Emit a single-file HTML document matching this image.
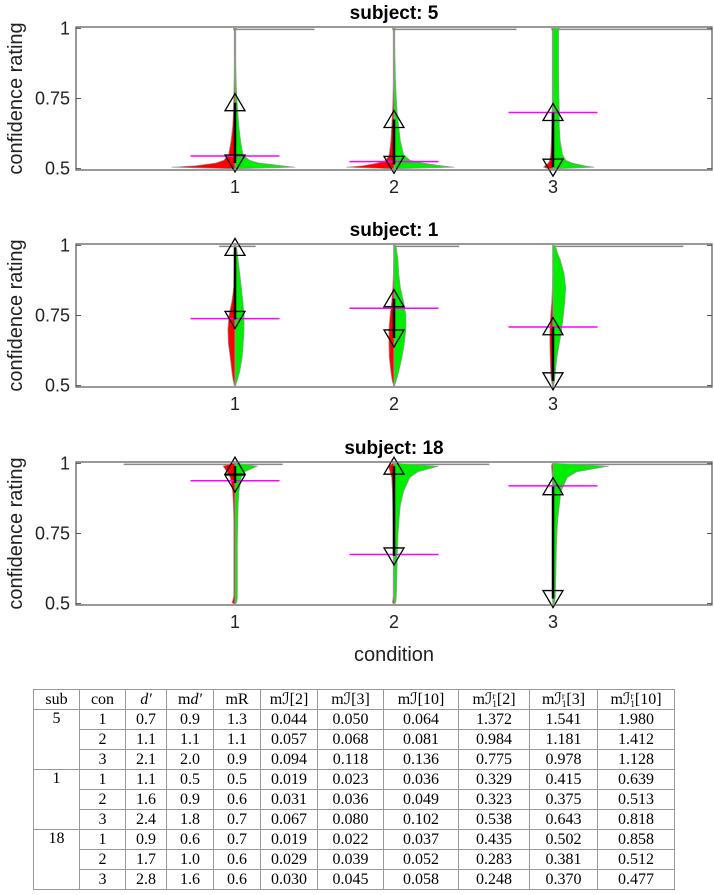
<!DOCTYPE html>
<html><head><meta charset="utf-8">
<style>
body{margin:0;background:#fff;width:714px;height:895px;overflow:hidden;position:relative;font-family:"Liberation Sans",sans-serif}
svg{position:absolute;left:0;top:0}
table{position:absolute;left:33px;top:689px;border-collapse:collapse;font-family:"Liberation Serif",serif;font-size:16px;table-layout:fixed}
td{border:1px solid #999;height:19px;padding:0;text-align:center;vertical-align:middle;line-height:18px}
td.sub{vertical-align:top}
.ss{display:inline-block;vertical-align:middle;line-height:8px;font-size:9px;text-align:left}
i{font-style:italic}
</style></head><body>
<svg id="chart" width="714" height="680"></svg>
<table>
<colgroup><col style="width:46px"><col style="width:46px"><col style="width:41px"><col style="width:47px"><col style="width:47px"><col style="width:57px"><col style="width:66px"><col style="width:75px"><col style="width:71px"><col style="width:68px"><col style="width:77px"></colgroup>
<tr><td>sub</td><td>con</td><td><i>d′</i></td><td>m<i>d′</i></td><td>mR</td><td>mℐ[2]</td><td>mℐ[3]</td><td>mℐ[10]</td><td>mℐ<span class="ss">r<br>1</span>[2]</td><td>mℐ<span class="ss">r<br>1</span>[3]</td><td>mℐ<span class="ss">r<br>1</span>[10]</td></tr>
<tr><td class="sub" rowspan="3">5</td><td>1</td><td>0.7</td><td>0.9</td><td>1.3</td><td>0.044</td><td>0.050</td><td>0.064</td><td>1.372</td><td>1.541</td><td>1.980</td></tr>
<tr><td>2</td><td>1.1</td><td>1.1</td><td>1.1</td><td>0.057</td><td>0.068</td><td>0.081</td><td>0.984</td><td>1.181</td><td>1.412</td></tr>
<tr><td>3</td><td>2.1</td><td>2.0</td><td>0.9</td><td>0.094</td><td>0.118</td><td>0.136</td><td>0.775</td><td>0.978</td><td>1.128</td></tr>
<tr><td class="sub" rowspan="3">1</td><td>1</td><td>1.1</td><td>0.5</td><td>0.5</td><td>0.019</td><td>0.023</td><td>0.036</td><td>0.329</td><td>0.415</td><td>0.639</td></tr>
<tr><td>2</td><td>1.6</td><td>0.9</td><td>0.6</td><td>0.031</td><td>0.036</td><td>0.049</td><td>0.323</td><td>0.375</td><td>0.513</td></tr>
<tr><td>3</td><td>2.4</td><td>1.8</td><td>0.7</td><td>0.067</td><td>0.080</td><td>0.102</td><td>0.538</td><td>0.643</td><td>0.818</td></tr>
<tr><td class="sub" rowspan="3">18</td><td>1</td><td>0.9</td><td>0.6</td><td>0.7</td><td>0.019</td><td>0.022</td><td>0.037</td><td>0.435</td><td>0.502</td><td>0.858</td></tr>
<tr><td>2</td><td>1.7</td><td>1.0</td><td>0.6</td><td>0.029</td><td>0.039</td><td>0.052</td><td>0.283</td><td>0.381</td><td>0.512</td></tr>
<tr><td>3</td><td>2.8</td><td>1.6</td><td>0.6</td><td>0.030</td><td>0.045</td><td>0.058</td><td>0.248</td><td>0.370</td><td>0.477</td></tr>
</table>
<script>
const subjects = ["5","1","18"];
const conditions = [1,2,3];
const yTicks = [0.5,0.75,1];
const yTickLabels = ["0.5","0.75","1"];
const densityY = [0.5,0.505,0.51,0.52,0.53,0.55,0.6,0.65,0.7,0.75,0.8,0.85,0.9,0.95,0.97,0.99,1.0];
const redWidths = [
 [[0.05,0.4,0.25,0.12,0.07,0.04,0.025,0.015,0.01,0.008,0.006,0.005,0.005,0.005,0.005,0.005,0.01],
  [0.05,0.3,0.2,0.1,0.05,0.03,0.02,0.015,0.01,0.007,0.005,0.005,0.005,0.005,0.005,0.005,0.01],
  [0.03,0.06,0.05,0.03,0.02,0.015,0.01,0.008,0.006,0.005,0.005,0.005,0.005,0.005,0.005,0.005,0.01]],
 [[0.005,0.006,0.008,0.012,0.015,0.02,0.03,0.042,0.045,0.038,0.02,0.008,0.005,0.004,0.004,0.004,0.004],
  [0.003,0.005,0.008,0.012,0.015,0.02,0.03,0.032,0.032,0.025,0.015,0.008,0.004,0.003,0.003,0.003,0.003],
  [0.003,0.005,0.008,0.01,0.012,0.015,0.018,0.02,0.02,0.015,0.008,0.004,0.003,0.003,0.003,0.003,0.003]],
 [[0.01,0.02,0.015,0.01,0.008,0.008,0.008,0.008,0.008,0.008,0.008,0.01,0.015,0.03,0.05,0.075,0.02],
  [0.005,0.01,0.008,0.006,0.005,0.005,0.005,0.005,0.005,0.005,0.006,0.008,0.01,0.015,0.025,0.035,0.01],
  [0.002,0.003,0.003,0.003,0.003,0.003,0.003,0.003,0.003,0.003,0.003,0.003,0.004,0.005,0.007,0.01,0.005]]
];
const greenWidths = [
 [[0.05,0.38,0.3,0.15,0.09,0.05,0.035,0.025,0.018,0.012,0.008,0.006,0.005,0.005,0.005,0.005,0.01],
  [0.05,0.38,0.3,0.18,0.1,0.06,0.04,0.03,0.02,0.015,0.01,0.008,0.006,0.005,0.005,0.005,0.01],
  [0.05,0.26,0.2,0.12,0.08,0.06,0.045,0.04,0.04,0.038,0.036,0.035,0.035,0.035,0.035,0.035,0.04]],
 [[0.005,0.006,0.01,0.015,0.02,0.03,0.045,0.052,0.057,0.057,0.05,0.04,0.03,0.02,0.015,0.01,0.005],
  [0.005,0.006,0.01,0.015,0.02,0.03,0.05,0.065,0.075,0.075,0.06,0.04,0.03,0.025,0.02,0.015,0.01],
  [0.005,0.006,0.008,0.01,0.012,0.015,0.025,0.04,0.055,0.065,0.075,0.08,0.07,0.045,0.03,0.02,0.01]],
 [[0.005,0.01,0.012,0.015,0.015,0.015,0.015,0.015,0.015,0.016,0.018,0.02,0.025,0.04,0.06,0.14,0.02],
  [0.005,0.01,0.012,0.014,0.015,0.016,0.018,0.02,0.022,0.026,0.032,0.04,0.06,0.1,0.15,0.28,0.02],
  [0.005,0.01,0.012,0.014,0.015,0.016,0.018,0.02,0.022,0.025,0.03,0.04,0.05,0.09,0.15,0.35,0.02]]
];
const spikeLeft = [[0,0,0],[0.1,0,0],[0.7,0,0]];
const spikeRight = [[0.5,0.77,1.0],[0.13,0.41,0.82],[0.3,0.6,1.0]];
const upMarker = [[0.735,0.675,0.70],[0.993,0.81,0.71],[0.99,0.99,0.917]];
const downMarker = [[0.52,0.515,0.505],[0.736,0.67,0.517],[0.93,0.67,0.518]];
const meanLine = [[0.545,0.525,0.70],[0.739,0.776,0.709],[0.938,0.675,0.92]];

const NS="http://www.w3.org/2000/svg";
const svg=document.getElementById('chart');
function mk(tag,attrs,parent){const e=document.createElementNS(NS,tag);for(const k in attrs)e.setAttribute(k,attrs[k]);(parent||svg).appendChild(e);return e;}
const X0=76,X1=712,xMin=0,xMax=4;
const xs=v=>X0+(v-xMin)/(xMax-xMin)*(X1-X0);
const xw=w=>w/(xMax-xMin)*(X1-X0);
const boxTops=[27,244,462], boxH=143, yMin=0.495, yMax=1.005;

subjects.forEach((s,p)=>{
  const top=boxTops[p];
  const ys=v=>top+(yMax-v)/(yMax-yMin)*boxH;
  const g=mk('g',{});
  
  
  const t=mk('text',{x:(X0+X1)/2,y:top-8,'text-anchor':'middle','font-size':19,'font-weight':'bold','font-family':'Liberation Sans, sans-serif'},g);
  t.textContent='subject: '+s;
  
  
  const yl=mk('text',{transform:`translate(22,${top+boxH/2}) rotate(-90)`,'text-anchor':'middle','font-size':20,fill:'#222'},g);
  yl.textContent='confidence rating';
  
  
  yTicks.forEach((v,i)=>{
    const tl=mk('text',{x:70,y:ys(v)+6,'text-anchor':'end','font-size':18,fill:'#222'},g);
    tl.textContent=yTickLabels[i];
    
    
    mk('line',{x1:X0,x2:X0+5,y1:ys(v),y2:ys(v),stroke:'#555'},g);
    mk('line',{x1:X1-5,x2:X1,y1:ys(v),y2:ys(v),stroke:'#555'},g);
  });
  conditions.forEach((c,ci)=>{
    const xt=mk('text',{x:xs(c),y:top+boxH+23,'text-anchor':'middle','font-size':18,fill:'#222'},g);
    xt.textContent=String(c);
    
    
    const cx=xs(c);
    const sp=mk('line',{x1:cx-xw(spikeLeft[p][ci]),x2:cx+xw(spikeRight[p][ci]),y1:ys(1)+1,y2:ys(1)+1,stroke:'#888','stroke-width':1.5},g);
    
    
    let dr='M'+cx+','+ys(densityY[0]);
    densityY.forEach((v,k)=>{dr+=' L'+(cx-xw(redWidths[p][ci][k])).toFixed(2)+','+ys(v).toFixed(2);});
    dr+=' L'+cx+','+ys(1)+' Z';
    const rp=mk('path',{d:dr,fill:'#ff0000',stroke:'#999','stroke-width':0.7},g);
    
    
    let dg='M'+cx+','+ys(densityY[0]);
    densityY.forEach((v,k)=>{dg+=' L'+(cx+xw(greenWidths[p][ci][k])).toFixed(2)+','+ys(v).toFixed(2);});
    dg+=' L'+cx+','+ys(1)+' Z';
    const gp=mk('path',{d:dg,fill:'#00ee00',stroke:'#999','stroke-width':0.7},g);
    
    
    const ml=mk('line',{x1:cx-xw(0.28),x2:cx+xw(0.28),y1:ys(meanLine[p][ci]),y2:ys(meanLine[p][ci]),stroke:'#ff00ff','stroke-width':1.5},g);
    
    
    const yu=ys(upMarker[p][ci]), yd=ys(downMarker[p][ci]);
    const cl=mk('line',{x1:cx,x2:cx,y1:yu,y2:yd,stroke:'#000','stroke-width':2.5},g);
    
    
    const tu=mk('path',{d:`M${cx-10},${yu+8} L${cx+10},${yu+8} L${cx},${yu-9} Z`,fill:'none',stroke:'#000','stroke-width':1.3},g);
    
    
    const td=mk('path',{d:`M${cx-10},${yd-8} L${cx+10},${yd-8} L${cx},${yd+9} Z`,fill:'none',stroke:'#000','stroke-width':1.3},g);
    
    
  });
  const bx=mk('rect',{x:X0,y:top,width:X1-X0,height:boxH,fill:'none',stroke:'#555','stroke-width':1.2},g);
  
  
});
const xl=mk('text',{x:(X0+X1)/2,y:661,'text-anchor':'middle','font-size':20,fill:'#222'});
xl.textContent='condition';


</script>
</body></html>
